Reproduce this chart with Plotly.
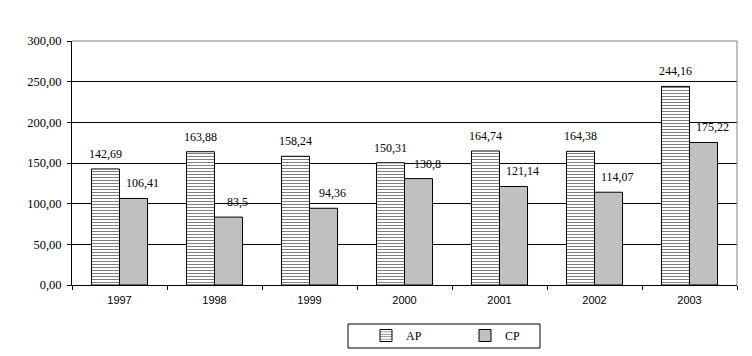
import plotly.graph_objects as go

years = ["1997", "1998", "1999", "2000", "2001", "2002", "2003"]
ap = [142.69, 163.88, 158.24, 150.31, 164.74, 164.38, 244.16]
cp = [106.41, 83.5, 94.36, 130.8, 121.14, 114.07, 175.22]
y_ticks = [0, 50, 100, 150, 200, 250, 300]
y_ticktext = ["0,00", "50,00", "100,00", "150,00", "200,00", "250,00", "300,00"]

def lab(vals):
    return [str(v).replace(".", ",") for v in vals]

serif = "Liberation Serif, Times New Roman, serif"
BARGAP = 0.41

fig = go.Figure()
fig.add_trace(go.Bar(
    x=years, y=ap, name="AP",
    marker=dict(color="white", line=dict(color="black", width=1),
                pattern=dict(shape="-", fgcolor="black", bgcolor="white", size=3, solidity=0.34)),
))
fig.add_trace(go.Bar(
    x=years, y=cp, name="CP",
    marker=dict(color="#c0c0c0", line=dict(color="black", width=1)),
))

# page has an 8px body margin; figure is sized to fit in the window
OFF = 8
W, H = 752 - OFF, 356 - OFF
left, right, top, bottom = 72, 737, 41, 285  # plot area in page pixels
ml, mr, mt, mb = left - OFF, 752 - right, top - OFF, 356 - bottom
pw, ph = right - left, bottom - top

def px(x):
    return (x - left) / pw

def py(y):
    return (bottom - y) / ph

catw = pw / len(years)
barw = catw * (1 - BARGAP) / 2

annotations = []
for series, shift in ((ap, -barw / 2), (cp, barw / 2 + 9)):
    for i, (v, t) in enumerate(zip(series, lab(series))):
        annotations.append(dict(
            x=i, y=v, text=t, showarrow=False, xanchor="center", yanchor="bottom",
            xshift=shift, yshift=6, font=dict(family=serif, size=12, color="black"),
        ))

fig.update_layout(
    width=W, height=H,
    margin=dict(l=ml, r=mr, t=mt, b=mb, pad=0, autoexpand=False),
    paper_bgcolor="white", plot_bgcolor="white",
    barmode="group", bargap=BARGAP, bargroupgap=0,
    font=dict(family=serif, size=12, color="black"),
    showlegend=True,
    legend=dict(
        orientation="h", x=px(366), y=py(321), xanchor="left", yanchor="top",
        bgcolor="rgba(0,0,0,0)", borderwidth=0,
        entrywidth=54, entrywidthmode="pixels",
        font=dict(family=serif, size=12, color="black"),
        itemwidth=30,
    ),
    xaxis=dict(
        type="category", range=[-0.5, len(years) - 0.5],
        showline=True, linecolor="black", linewidth=1,
        ticks="outside", tickson="boundaries", ticklen=4, tickcolor="black",
        tickfont=dict(family="Liberation Sans, Arial, sans-serif", size=11, color="black"),
        ticklabelstandoff=5,
        showgrid=False, zeroline=False, automargin=False,
    ),
    yaxis=dict(
        range=[0, 300], tickvals=y_ticks, ticktext=y_ticktext,
        showline=True, linecolor="black", linewidth=1,
        ticks="outside", ticklen=4, tickcolor="black",
        tickfont=dict(family=serif, size=12.5, color="black"),
        ticklabelstandoff=3,
        showgrid=True, gridcolor="black", gridwidth=1, zeroline=False, automargin=False,
    ),
    annotations=annotations,
    shapes=[
        dict(type="line", xref="paper", yref="paper", x0=0, x1=1, y0=1, y1=1,
             line=dict(color="#808080", width=1), layer="above"),
        dict(type="line", xref="paper", yref="paper", x0=1, x1=1, y0=0, y1=1,
             line=dict(color="#808080", width=1), layer="above"),
        dict(type="rect", xref="paper", yref="paper", x0=px(348), x1=px(540),
             y0=py(348), y1=py(324), line=dict(color="black", width=1)),
    ],
)

fig.write_html("out.html")
